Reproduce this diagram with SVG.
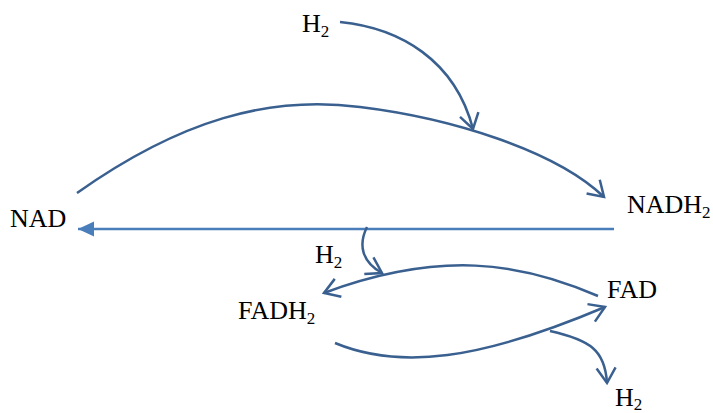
<svg xmlns="http://www.w3.org/2000/svg" width="713" height="413" viewBox="0 0 713 413">
<style>
text{font-family:"Liberation Serif","Times New Roman",serif;font-size:26px;fill:#000}
.sub{font-size:17px}
.c{fill:none;stroke:#3A6090;stroke-width:2.5}
.h{fill:none;stroke:#4A7EBB;stroke-width:2.5}
</style>
<defs>
<marker id="open" markerUnits="userSpaceOnUse" markerWidth="40" markerHeight="40" viewBox="-20 -20 40 40" refX="0" refY="0" orient="auto" overflow="visible">
<path d="M-15,-9.5 L0,0 L-15,9.5" fill="none" stroke="#3A6090" stroke-width="2.5"/>
</marker>
<marker id="fill" markerUnits="userSpaceOnUse" markerWidth="40" markerHeight="40" viewBox="-20 -20 40 40" refX="0" refY="0" orient="auto" overflow="visible">
<path d="M0,0 L-16,-7.5 L-16,7.5 Z" fill="#4A7EBB"/>
</marker>
</defs>
<g id="connectors">
<path class="c" d="M340,22 C400,28 455,60 473,129" marker-end="url(#open)"/>
<path class="c" d="M77,193 C180,120 270,95 360,107 C450,118 555,150 604,197" marker-end="url(#open)"/>
<path class="h" d="M614,229 L78,229" marker-end="url(#fill)"/>
<path class="c" d="M367,227 C358,245 362,262 382,273" marker-end="url(#open)"/>
<path class="c" d="M598,296 C520,262 440,250 324,293" marker-end="url(#open)"/>
<path class="c" d="M335,343 C400,370 480,360 605,307" marker-end="url(#open)"/>
<path class="c" d="M550,331 C590,340 605,350 607,383" marker-end="url(#open)"/>
</g>
<g id="h2-top"><text x="302" y="32">H<tspan class="sub" dy="5">2</tspan></text></g>
<g id="nad"><text x="10" y="227">NAD</text></g>
<g id="nadh2"><text x="627" y="213">NADH<tspan class="sub" dy="5">2</tspan></text></g>
<g id="h2-mid"><text x="315" y="263">H<tspan class="sub" dy="5">2</tspan></text></g>
<g id="fadh2"><text x="238" y="319">FADH<tspan class="sub" dy="5">2</tspan></text></g>
<g id="fad"><text x="607" y="298">FAD</text></g>
<g id="h2-bottom"><text x="615" y="406">H<tspan class="sub" dy="4">2</tspan></text></g>
</svg>
